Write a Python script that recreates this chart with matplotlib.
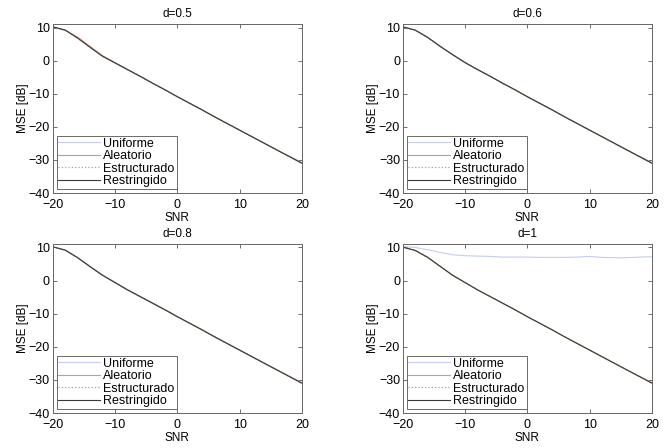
import matplotlib.pyplot as plt

plt.rcParams["font.family"] = ["Liberation Sans", "DejaVu Sans"]

# SNR en dB
snr = [-20, -18, -16, -14, -12, -10, -8, -6, -4, -2, 0, 2, 4, 6, 8, 10, 12, 14, 16, 18, 20]

# d = 0.5
u_05 = [10.2, 9.2, 6.8, 4.0, 1.3, -0.7, -2.7, -4.7, -6.8, -8.8, -10.9, -12.9, -14.9, -17.0, -19.0, -21.0, -23.0, -25.0, -27.0, -29.0, -31.0]
a_05 = [10.2, 9.2, 7.1, 4.3, 1.5, -0.6, -2.7, -4.7, -6.8, -8.8, -10.9, -12.9, -14.9, -17.0, -19.0, -21.0, -23.0, -25.0, -27.0, -28.9, -30.8]
e_05 = [10.2, 9.2, 6.8, 4.0, 1.3, -0.7, -2.7, -4.7, -6.8, -8.8, -10.9, -12.9, -14.9, -17.0, -19.0, -21.0, -23.0, -25.0, -27.0, -29.0, -31.0]
r_05 = [10.2, 9.2, 6.8, 4.0, 1.3, -0.7, -2.7, -4.7, -6.8, -8.8, -10.9, -12.9, -14.9, -17.0, -19.0, -21.0, -23.0, -25.0, -27.0, -29.0, -31.0]

# d = 0.6
u_06 = [10.2, 9.2, 7.0, 4.3, 1.8, -0.6, -2.7, -4.7, -6.8, -8.8, -10.9, -12.9, -14.9, -17.0, -19.0, -21.0, -23.0, -25.0, -27.0, -29.0, -31.0]
a_06 = [10.2, 9.2, 7.0, 4.3, 1.8, -0.6, -2.7, -4.7, -6.8, -8.8, -10.9, -12.9, -14.9, -17.0, -19.0, -21.0, -23.0, -25.0, -27.0, -28.9, -30.8]
e_06 = [10.2, 9.2, 7.0, 4.3, 1.8, -0.6, -2.7, -4.7, -6.8, -8.8, -10.9, -12.9, -14.9, -17.0, -19.0, -21.0, -23.0, -25.0, -27.0, -29.0, -31.0]
r_06 = [10.2, 9.2, 7.0, 4.3, 1.8, -0.6, -2.7, -4.7, -6.8, -8.8, -10.9, -12.9, -14.9, -17.0, -19.0, -21.0, -23.0, -25.0, -27.0, -29.0, -31.0]

# d = 0.8
u_08 = [10.2, 9.2, 6.9, 4.2, 1.6, -0.6, -2.8, -4.8, -6.8, -8.8, -10.9, -12.9, -14.9, -17.0, -19.0, -21.0, -23.0, -25.0, -27.0, -29.0, -31.0]
a_08 = [10.2, 9.2, 6.9, 4.2, 1.6, -0.6, -2.8, -4.8, -6.8, -8.8, -10.9, -12.9, -14.9, -17.0, -19.0, -21.0, -23.0, -25.0, -27.0, -28.9, -30.8]
e_08 = [10.2, 9.2, 6.9, 4.2, 1.6, -0.6, -2.8, -4.8, -6.8, -8.8, -10.9, -12.9, -14.9, -17.0, -19.0, -21.0, -23.0, -25.0, -27.0, -29.0, -31.0]
r_08 = [10.2, 9.2, 6.9, 4.2, 1.6, -0.6, -2.8, -4.8, -6.8, -8.8, -10.9, -12.9, -14.9, -17.0, -19.0, -21.0, -23.0, -25.0, -27.0, -29.0, -31.0]

# d = 1
u_1 = [10.3, 10.0, 9.3, 8.5, 7.8, 7.5, 7.4, 7.3, 7.1, 7.1, 7.1, 7.0, 7.0, 7.0, 7.1, 7.3, 7.0, 6.9, 6.9, 7.1, 7.2]
a_1 = [10.1, 9.1, 7.0, 4.3, 1.6, -0.6, -2.8, -4.8, -6.8, -8.8, -10.9, -12.9, -14.9, -17.0, -19.0, -21.0, -23.0, -25.0, -27.0, -28.9, -30.8]
e_1 = [10.1, 9.1, 7.0, 4.3, 1.6, -0.6, -2.8, -4.8, -6.8, -8.8, -10.9, -12.9, -14.9, -17.0, -19.0, -21.0, -23.0, -25.0, -27.0, -29.0, -31.0]
r_1 = [10.1, 9.1, 7.0, 4.3, 1.6, -0.6, -2.8, -4.8, -6.8, -8.8, -10.9, -12.9, -14.9, -17.0, -19.0, -21.0, -23.0, -25.0, -27.0, -29.0, -31.0]

titles = ["d=0.5", "d=0.6", "d=0.8", "d=1"]
series = [
    (u_05, a_05, e_05, r_05),
    (u_06, a_06, e_06, r_06),
    (u_08, a_08, e_08, r_08),
    (u_1, a_1, e_1, r_1),
]
labels = ["Uniforme", "Aleatorio", "Estructurado", "Restringido"]

# positions des axes (fraction de la figure)
positions = [
    [0.079, 0.569, 0.373, 0.377],
    [0.603, 0.569, 0.373, 0.377],
    [0.079, 0.078, 0.373, 0.377],
    [0.603, 0.078, 0.373, 0.377],
]

fig = plt.figure(figsize=(6.68, 4.48), dpi=100)

for pos, title, (u, a, e, r) in zip(positions, titles, series):
    ax = fig.add_axes(pos)
    ax.plot(snr, u, color="#c4ccf2", lw=0.8, label=labels[0])
    ax.plot(snr, a, color="#e88a8a", lw=0.8, label=labels[1])
    ax.plot(snr, e, color="#5fd05f", lw=0.9, ls=":", label=labels[2])
    ax.plot(snr, r, color="#3a3a3a", lw=0.8, label=labels[3])

    ax.set_xlim(-20, 20)
    ax.set_ylim(-40, 11)
    ax.set_xticks([-20, -10, 0, 10, 20])
    ax.set_yticks([-40, -30, -20, -10, 0, 10])
    ax.tick_params(direction="in", top=True, right=True, labelsize=9,
                   length=3, width=0.6, color="#555555")
    ax.tick_params(axis="x", pad=4.5)
    ax.tick_params(axis="y", pad=2)
    for s in ax.spines.values():
        s.set_linewidth(0.7)
        s.set_color("#666666")

    ax.set_title(title, fontsize=8.5, pad=5)
    ax.set_xlabel("SNR", fontsize=8.5, labelpad=0.5)
    ax.set_ylabel("MSE [dB]", fontsize=8.5, labelpad=0)

    leg = ax.legend(loc="lower left", fontsize=9, frameon=True, fancybox=False,
                    borderaxespad=0.3, borderpad=0.15, labelspacing=0.05,
                    handlelength=3.3, handletextpad=0.3)
    leg.get_frame().set_edgecolor("#444444")
    leg.get_frame().set_linewidth(0.7)

plt.savefig("out.png")
